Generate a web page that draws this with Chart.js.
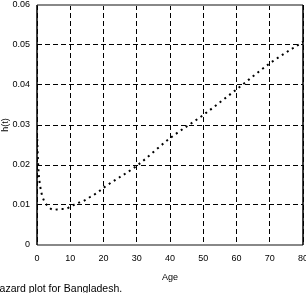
<!DOCTYPE html>
<html>
<head>
<meta charset="utf-8">
<script src="https://cdn.jsdelivr.net/npm/chart.js@4"></script>
<style>
  html, body { margin: 0; padding: 0; background: #fff; overflow: hidden; width: 306px; height: 293px; }
  #wrap { position: relative; width: 306px; height: 293px; }
  canvas { position: absolute; left: 0; top: 0; }
  #caption { position: absolute; left: -8px; top: 282px; font: 10.5px "Liberation Sans", Arial, sans-serif; color: #000; white-space: nowrap; }
</style>
</head>
<body>
<div id="wrap">
  <canvas id="hazard" width="320" height="283"></canvas>
  <div id="caption">Hazard plot for Bangladesh.</div>
</div>
<script>
// hazard h(t)
const ages   = [0, 0.25, 0.5, 1, 1.5, 2.3, 3.4, 5, 7, 8.5, 10, 12, 14, 16, 18, 20, 30, 40, 50, 60, 70, 80];
const hazard = [0.028, 0.022, 0.018, 0.0145, 0.0125, 0.0108, 0.0096, 0.0088, 0.009, 0.009, 0.0096, 0.0104, 0.011, 0.012, 0.013, 0.0143, 0.0198, 0.0267, 0.0325, 0.0389, 0.0454, 0.0508];
const xTicks = [0, 10, 20, 30, 40, 50, 60, 70, 80];
const yTicks = [0, 0.01, 0.02, 0.03, 0.04, 0.05, 0.06];

const font = { family: '"Liberation Sans", Arial, sans-serif', size: 9 };

// frame round the plot
const frame = {
  id: 'frame',
  afterDraw(chart) {
    const { ctx, chartArea: a } = chart;
    ctx.save();
    ctx.strokeStyle = '#888';
    ctx.lineWidth = 2;
    ctx.beginPath();
    ctx.moveTo(a.left, a.top); ctx.lineTo(a.right, a.top);
    ctx.moveTo(a.left, a.bottom); ctx.lineTo(a.right, a.bottom);
    ctx.stroke();
    ctx.strokeStyle = '#000';
    ctx.lineWidth = 1.5;
    ctx.beginPath();
    ctx.moveTo(a.left, a.top); ctx.lineTo(a.left, a.bottom);
    ctx.moveTo(a.right, a.top); ctx.lineTo(a.right, a.bottom);
    ctx.stroke();
    ctx.restore();
  }
};

new Chart(document.getElementById('hazard'), {
  type: 'line',
  data: {
    datasets: [{
      data: ages.map((a, i) => ({ x: a, y: hazard[i] })),
      borderColor: '#000',
      borderWidth: 2,
      borderDash: [2, 4],
      pointRadius: 0,
      cubicInterpolationMode: 'monotone',
      fill: false
    }]
  },
  options: {
    responsive: false,
    animation: false,
    layout: { padding: { top: 5, right: 17, left: 0, bottom: 0 } },
    plugins: { legend: { display: false }, tooltip: { enabled: false } },
    scales: {
      x: {
        type: 'linear',
        min: 0, max: 80,
        afterBuildTicks: s => { s.ticks = xTicks.map(v => ({ value: v })); },
        afterFit: s => { s.height = 38; s.paddingLeft = 0; s.paddingRight = 0; },
        grid: { color: '#000', lineWidth: 1, drawTicks: false },
        border: { display: false, dash: [5, 3] },
        ticks: { color: '#000', font, padding: 8, maxRotation: 0 },
        title: { display: true, text: 'Age', color: '#000', font, padding: { top: 4, bottom: 0 } }
      },
      y: {
        min: 0, max: 0.06,
        afterBuildTicks: s => { s.ticks = yTicks.map(v => ({ value: v })); },
        afterFit: s => { s.width = 37; s.paddingTop = 0; s.paddingBottom = 0; },
        grid: { color: '#000', lineWidth: 1, drawTicks: false },
        border: { display: false, dash: [5, 3] },
        ticks: { color: '#000', font, padding: 7, callback: v => String(+v.toFixed(2)) },
        title: { display: true, text: 'h(t)', color: '#000', font, padding: 0 }
      }
    }
  },
  plugins: [frame]
});
</script>
</body>
</html>
